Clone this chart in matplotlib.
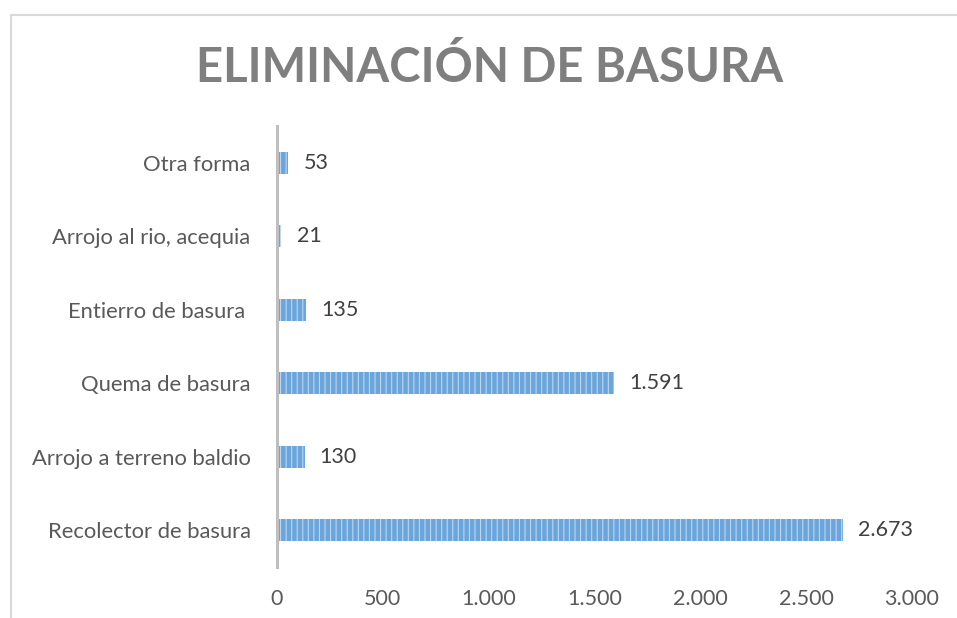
import matplotlib
matplotlib.use("Agg")
import matplotlib.pyplot as plt
from matplotlib.patches import Rectangle

categories = ["Recolector de basura", "Arrojo a terreno baldio", "Quema de basura",
              "Entierro de basura ", "Arrojo al rio, acequia", "Otra forma"]
values = [2673, 130, 1591, 135, 21, 53]
xticks = [0, 500, 1000, 1500, 2000, 2500, 3000]
title = "ELIMINACIÓN DE BASURA"

def fmt(v):
    return f"{v:,}".replace(",", ".")

plt.rcParams['font.family'] = ['Lato', 'DejaVu Sans']
plt.rcParams['hatch.linewidth'] = 0.8
W, H = 957, 618
fig = plt.figure(figsize=(W/100, H/100), dpi=100)
ax = fig.add_axes([277/W, 1-567/H, (912-277)/W, (567-126)/H])

bars = ax.barh(range(len(categories)), values, height=0.3, color="#6AA5DB",
               edgecolor="#BDD7EE", hatch="|||", linewidth=0)
for i, v in enumerate(values):
    ax.annotate(fmt(v), (v, i), xytext=(11, 0), textcoords="offset points",
                va="center", ha="left", fontsize=15.5, color="#404040")

ax.set_xlim(0, 3000)
ax.set_ylim(-0.5, len(categories)-0.5)
ax.set_yticks(range(len(categories)))
ax.set_yticklabels(categories, fontsize=15.8, color="#595959")
ax.set_xticks(xticks)
ax.set_xticklabels([fmt(t) for t in xticks], fontsize=15.5, color="#595959")
ax.tick_params(axis="both", length=0)
ax.tick_params(axis="y", pad=19)
ax.tick_params(axis="x", pad=16)
for s in ["top", "right", "bottom"]:
    ax.spines[s].set_visible(False)
ax.spines["left"].set_color("#BFBFBF")
ax.spines["left"].set_linewidth(2.2)

fig.text(490/W, 1-68/H, title, ha="center", va="center", fontsize=34,
         fontweight="bold", color="#7F7F7F")

fig.patches.append(Rectangle((11/W, -0.1), 1.2, 1-15/H+0.1, transform=fig.transFigure,
                             fill=False, edgecolor="#D9D9D9", linewidth=1.5))

fig.savefig("out.png", dpi=100)
